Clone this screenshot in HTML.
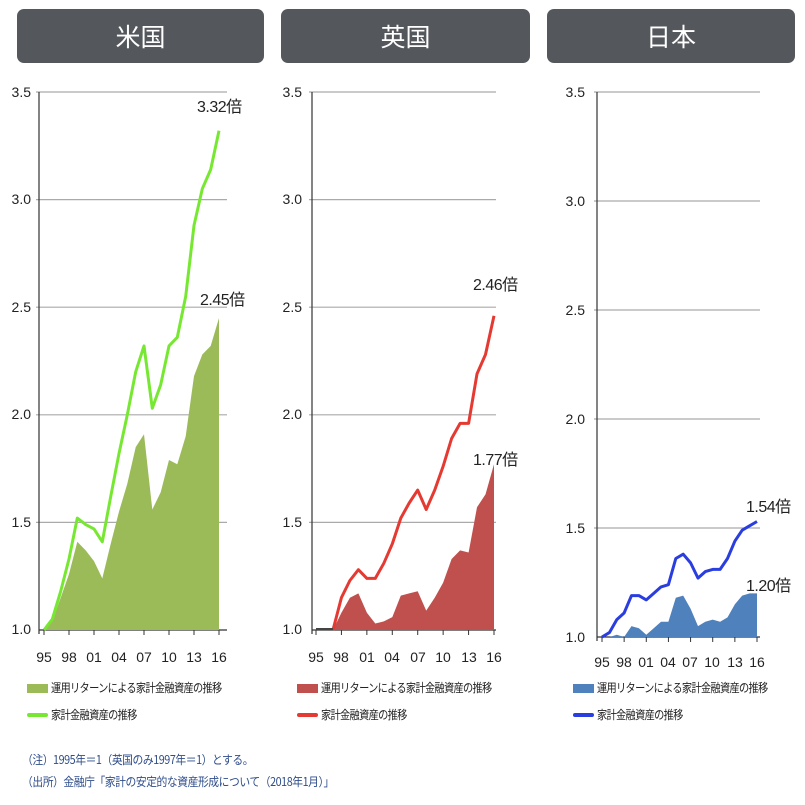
<!DOCTYPE html>
<html><head><meta charset="utf-8">
<style>
body{margin:0;width:805px;height:805px;background:#fff;overflow:hidden;font-family:"Liberation Sans","Noto Sans CJK JP",sans-serif;}
.hd{position:absolute;top:9px;height:54px;background:#54575c;border-radius:7px;color:#fff;font-size:25px;text-align:center;line-height:54px;font-family:"Noto Sans CJK JP",sans-serif;}
svg{position:absolute;left:0;top:0}
.t{font-family:"Liberation Sans Narrow","Liberation Sans","Noto Sans CJK JP",sans-serif;font-size:14px;fill:#222}
.lg{position:absolute;font-size:12px;color:#222;font-family:"Noto Sans CJK JP",sans-serif;letter-spacing:-0.8px;transform:scaleX(0.85);transform-origin:0 0;white-space:nowrap}
.sw{position:absolute;width:21px;height:9px}
.ln{position:absolute;width:21px;height:4px;border-radius:2px}
.fn{position:absolute;left:22px;font-size:12px;color:#2f4d8a;font-family:"Noto Sans CJK JP",sans-serif;letter-spacing:-0.5px;transform:scaleX(0.9);transform-origin:0 0;white-space:nowrap}
</style></head><body>
<div class="hd" style="left:17px;width:247px">米国</div>
<div class="hd" style="left:281px;width:249px">英国</div>
<div class="hd" style="left:547px;width:248px">日本</div>
<svg id="s" width="805" height="805">
<g class="t" text-anchor="end">
<text x="31" y="97">3.5</text><text x="31" y="204">3.0</text><text x="31" y="312">2.5</text><text x="31" y="419">2.0</text><text x="31" y="527">1.5</text><text x="31" y="634">1.0</text>
<text x="302" y="97">3.5</text><text x="302" y="204">3.0</text><text x="302" y="312">2.5</text><text x="302" y="419">2.0</text><text x="302" y="527">1.5</text><text x="302" y="634">1.0</text>
<text x="585" y="97">3.5</text><text x="585" y="206">3.0</text><text x="585" y="315">2.5</text><text x="585" y="424">2.0</text><text x="585" y="533">1.5</text><text x="585" y="642">1.0</text>
</g>
<g class="t" text-anchor="middle" font-size="15">
<text x="44" y="662">95</text><text x="69" y="662">98</text><text x="94" y="662">01</text><text x="119" y="662">04</text><text x="144" y="662">07</text><text x="169" y="662">10</text><text x="194" y="662">13</text><text x="219" y="662">16</text>
<text x="316" y="662">95</text><text x="341" y="662">98</text><text x="367" y="662">01</text><text x="392" y="662">04</text><text x="418" y="662">07</text><text x="443" y="662">10</text><text x="469" y="662">13</text><text x="494" y="662">16</text>
<text x="602" y="667">95</text><text x="624" y="667">98</text><text x="646" y="667">01</text><text x="668" y="667">04</text><text x="690" y="667">07</text><text x="712" y="667">10</text><text x="735" y="667">13</text><text x="757" y="667">16</text>
</g>
<g font-size="16" fill="#222" font-family="Liberation Sans Narrow, Liberation Sans, Noto Sans CJK JP, sans-serif" letter-spacing="-0.5">
<text x="197" y="112">3.32倍</text><text x="200" y="305">2.45倍</text>
<text x="473" y="290">2.46倍</text><text x="473" y="465">1.77倍</text>
<text x="746" y="512">1.54倍</text><text x="746" y="591">1.20倍</text>
</g>
</svg>
<div class="sw" style="left:27px;top:684px;background:#9bbb59"></div><div class="lg" style="left:51px;top:679px">運用リターンによる家計金融資産の推移</div>
<div class="ln" style="left:27px;top:713px;background:#77e831"></div><div class="lg" style="left:51px;top:706px">家計金融資産の推移</div>
<div class="sw" style="left:297px;top:684px;background:#c0504d"></div><div class="lg" style="left:321px;top:679px">運用リターンによる家計金融資産の推移</div>
<div class="ln" style="left:297px;top:713px;background:#e53a32"></div><div class="lg" style="left:321px;top:706px">家計金融資産の推移</div>
<div class="sw" style="left:573px;top:684px;background:#4f81bd"></div><div class="lg" style="left:597px;top:679px">運用リターンによる家計金融資産の推移</div>
<div class="ln" style="left:573px;top:713px;background:#2a3ee0"></div><div class="lg" style="left:597px;top:706px">家計金融資産の推移</div>
<div class="fn" style="top:751px">（注）1995年＝1（英国のみ1997年＝1）とする。</div>
<div class="fn" style="top:773px">（出所）金融庁「家計の安定的な資産形成について（2018年1月）」</div>
<script>
var s=document.getElementById('s'),NS='http://www.w3.org/2000/svg';
function el(t,a){var e=document.createElementNS(NS,t);for(var k in a)e.setAttribute(k,a[k]);s.insertBefore(e,s.firstChild);return e;}
function panel(ax,gx,x0,x1,y1,y35,start,area,line,ac,lc){
 var X=function(i){return x0+(x1-x0)*i/21},Y=function(v){return y1-(y1-y35)*(v-1)/2.5};
 if(start>0) el('line',{x1:X(0),x2:X(start),y1:y1-1,y2:y1-1,stroke:'#444','stroke-width':2});
 var p='';for(var i=0;i<line.length;i++)p+=(i?'L':'M')+X(i+start).toFixed(1)+','+Y(line[i]).toFixed(1);
 el('path',{d:p,fill:'none',stroke:lc,'stroke-width':3,'stroke-linejoin':'round'});
 var a='M'+X(start)+','+y1;for(var i=0;i<area.length;i++)a+='L'+X(i+start).toFixed(1)+','+Y(area[i]).toFixed(1);a+='L'+X(21)+','+y1+'Z';
 el('path',{d:a,fill:ac});
 for(var i=0;i<8;i++)el('line',{x1:X(i*3),x2:X(i*3),y1:y1,y2:y1+5,stroke:'#333','stroke-width':1});
 el('line',{x1:ax,x2:gx,y1:y1,y2:y1,stroke:'#333','stroke-width':1.2});
 el('line',{x1:ax,x2:ax,y1:y35,y2:y1+4,stroke:'#333','stroke-width':1.2});
 for(var v=1.5;v<=3.5;v+=0.5)el('line',{x1:ax-3,x2:gx,y1:Y(v),y2:Y(v),stroke:'#aaa','stroke-width':1.2});
}
panel(39,227,44,219,630,92,0,
[1,1.04,1.15,1.26,1.41,1.37,1.32,1.24,1.4,1.55,1.68,1.85,1.91,1.56,1.64,1.79,1.77,1.9,2.18,2.28,2.32,2.45],
[1,1.05,1.18,1.33,1.52,1.49,1.47,1.41,1.62,1.82,2.0,2.2,2.32,2.03,2.14,2.32,2.36,2.55,2.88,3.05,3.14,3.32],'#9bbb59','#77e831');
panel(312,496,316,494,630,92,2,
[1,1.08,1.15,1.17,1.08,1.03,1.04,1.06,1.16,1.17,1.18,1.09,1.15,1.22,1.33,1.37,1.36,1.57,1.63,1.77],
[1,1.15,1.23,1.28,1.24,1.24,1.31,1.4,1.52,1.59,1.65,1.56,1.65,1.76,1.89,1.96,1.96,2.19,2.28,2.46],'#c0504d','#e53a32');
panel(597,760,602,757,637,92,0,
[1,1,1.01,1,1.05,1.04,1.01,1.04,1.07,1.07,1.18,1.19,1.13,1.05,1.07,1.08,1.07,1.09,1.15,1.19,1.2,1.2],
[1,1.02,1.08,1.11,1.19,1.19,1.17,1.2,1.23,1.24,1.36,1.38,1.34,1.27,1.3,1.31,1.31,1.36,1.44,1.49,1.51,1.53],'#4f81bd','#2a3ee0');
</script>
</body></html>
